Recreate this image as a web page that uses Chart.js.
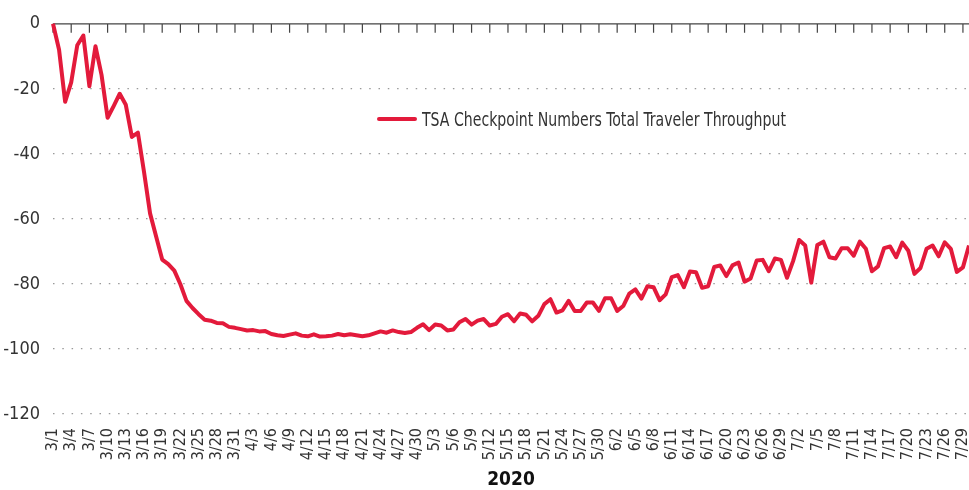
<!DOCTYPE html>
<html>
<head>
<meta charset="utf-8">
<script src="https://cdn.jsdelivr.net/npm/chart.js@4"></script>
<style>
  body { margin: 0; background: #fff; }
  #wrap { position: relative; width: 969px; height: 490px; }
  #legend {
    position: absolute; left: 377px; top: 108px;
    font: 19px "Liberation Sans Narrow", "DejaVu Sans Condensed", sans-serif;
    color: #333; white-space: nowrap; display: flex; align-items: center;
  }
  #legend span.swatch {
    display: inline-block; width: 40px; height: 4px; background: #e31a3b;
    margin-right: 5px; border-radius: 2px;
  }
  #legend span.txt { display: inline-block; transform: scaleX(0.825); transform-origin: left center; }
</style>
</head>
<body>
<div id="wrap">
  <canvas id="tsaChart"></canvas>
  <div id="legend"><span class="swatch"></span><span class="txt">TSA Checkpoint Numbers Total Traveler Throughput</span></div>
</div>
<script>
// ================= DATA =================
const SERIES_LABEL = "TSA Checkpoint Numbers Total Traveler Throughput";
const YEAR_TITLE = "2020";
const MONTHS = [3, 4, 5, 6, 7];
const MONTH_DAYS = [31, 30, 31, 30, 30]; // 3/1 .. 7/30
const Y_TICKS = [0, -20, -40, -60, -80, -100, -120];

// % change vs. last year, daily
const throughput = [
  0, -8, -24, -18, -6.6, -3.6, -19.2, -6.9, -15.7, -28.9,
  -25.3, -21.5, -24.9, -34.8, -33.5, -45.5, -58.3, -65.4, -72.5, -73.9,
  -75.9, -80.1, -85.2, -87.4, -89.3, -91, -91.3, -92, -92.1, -93.2,
  -93.5, -93.9, -94.3, -94.2, -94.6, -94.5, -95.4, -95.8, -96, -95.6,
  -95.2, -95.9, -96.1, -95.5, -96.2, -96.1, -95.9, -95.4, -95.8, -95.5,
  -95.8, -96.1, -95.8, -95.2, -94.6, -95, -94.3, -94.8, -95.1, -94.8,
  -93.5, -92.4, -94.2, -92.5, -92.8, -94.3, -94, -91.8, -90.8, -92.5,
  -91.3, -90.8, -92.8, -92.3, -90.1, -89.3, -91.5, -89.1, -89.5, -91.5,
  -89.8, -86.2, -84.7, -88.8, -88.1, -85.2, -88.3, -88.3, -85.7, -85.7,
  -88.3, -84.4, -84.4, -88.3, -86.8, -83, -81.7, -84.5, -80.7, -81,
  -85, -83.2, -77.9, -77.3, -81, -76.2, -76.4, -81.2, -80.7, -74.8,
  -74.3, -77.6, -74.3, -73.4, -79.3, -78.3, -72.8, -72.6, -76.1, -72.2,
  -72.6, -78.1, -73, -66.5, -68.2, -79.6, -68, -67, -71.8, -72.2,
  -69, -69, -71.3, -67, -69.2, -76.1, -74.6, -69, -68.5, -71.8,
  -67.3, -69.8, -76.9, -75.1, -69.2, -68.2, -71.5, -67.2, -69.2, -76.3,
  -74.9, -68.2
];

const dayLabels = [];
MONTHS.forEach((m, k) => {
  for (let d = 1; d <= MONTH_DAYS[k]; d++) dayLabels.push(m + "/" + d);
});

const FONT = '"Liberation Sans Narrow", "DejaVu Sans Condensed", sans-serif';

// ================= ZERO AXIS WITH TICKS =================
const zeroAxis = {
  id: "zeroAxis",
  beforeDatasetsDraw(chart) {
    const { ctx, chartArea, scales } = chart;
    const y0 = scales.y.getPixelForValue(0);
    ctx.save();
    ctx.strokeStyle = "#444";
    ctx.lineWidth = 1.2;
    ctx.beginPath();
    ctx.moveTo(chartArea.left, y0);
    ctx.lineTo(chartArea.right, y0);
    dayLabels.forEach((lab, i) => {
      if (i % 3 !== 0) return;
      const x = scales.x.getPixelForValue(i);
      ctx.moveTo(x, y0);
      ctx.lineTo(x, y0 + 9);
    });
    ctx.stroke();
    ctx.restore();
  }
};

// ================= CHART =================
function loadTsaChart() {
  const ctx = document.getElementById("tsaChart");
  new Chart(ctx, {
    type: "line",
    data: {
      labels: dayLabels,
      datasets: [
        {
          label: SERIES_LABEL,
          data: throughput,
          borderColor: "#e31a3b",
          borderWidth: 4,
          pointRadius: 0,
          tension: 0,
          borderJoinStyle: "round",
          clip: false
        }
      ]
    },
    options: {
      responsive: true,
      maintainAspectRatio: false,
      animation: false,
      layout: { padding: { top: 20, right: 0, left: 0, bottom: 0 } },
      plugins: { legend: { display: false }, tooltip: { enabled: false } },
      scales: {
        x: {
          grid: { display: false, drawTicks: false },
          border: { display: false },
          afterFit: s => { s.height = 76; s.paddingLeft = 0; s.paddingRight = 0; },
          ticks: {
            autoSkip: false,
            maxRotation: 90,
            minRotation: 90,
            padding: 14,
            color: "#333",
            font: { family: FONT, size: 16 },
            callback: function (val, i) {
              return i % 3 === 0 ? this.getLabelForValue(val) : null;
            }
          },
          title: {
            display: true,
            text: YEAR_TITLE,
            color: "#111",
            font: { family: FONT, size: 19, weight: "bold", lineHeight: 1 },
            padding: { top: 0, bottom: 0 }
          }
        },
        y: {
          min: -120,
          max: 0,
          afterFit: s => { s.width = 53; },
          afterBuildTicks: s => { s.ticks = Y_TICKS.map(v => ({ value: v })); },
          grid: {
            drawTicks: false,
            color: c => (c.tick && c.tick.value === 0 ? "rgba(0,0,0,0)" : "#999"),
            lineWidth: 1.3
          },
          border: { display: false, dash: [1.5, 7.8] },
          ticks: {
            padding: 13,
            color: "#333",
            font: { family: FONT, size: 18 }
          }
        }
      }
    },
    plugins: [zeroAxis]
  });
}

window.onload = () => {
  loadTsaChart();
};
</script>
</body>
</html>
